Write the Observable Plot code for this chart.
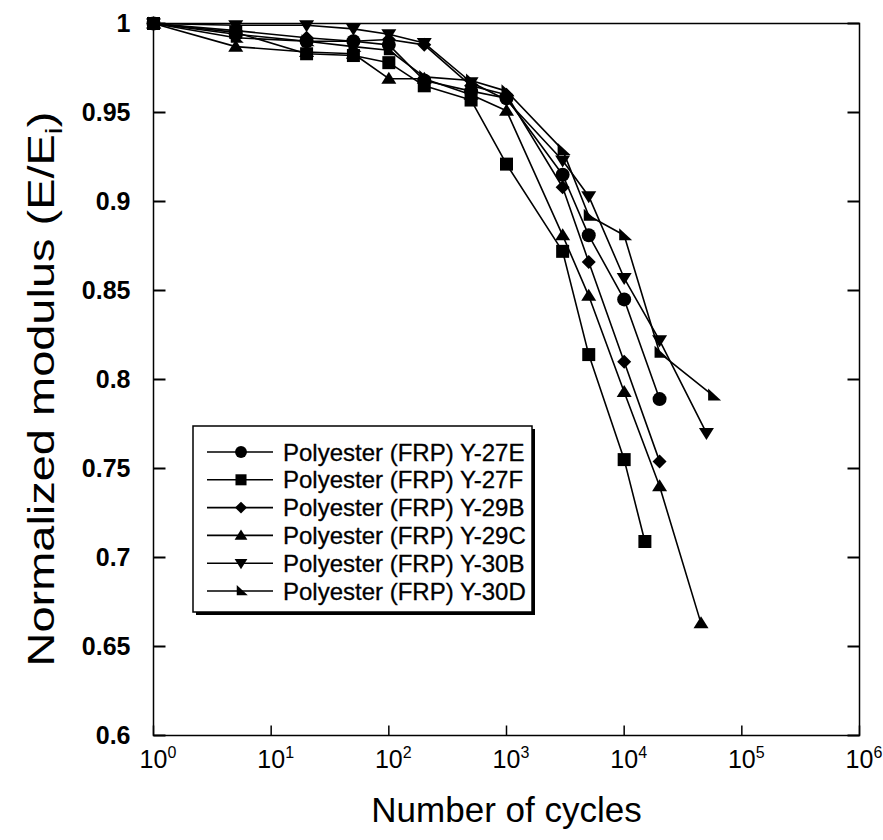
<!DOCTYPE html>
<html><head><meta charset="utf-8">
<script src="https://cdn.jsdelivr.net/npm/d3@7"></script>
<script src="https://cdn.jsdelivr.net/npm/@observablehq/plot@0.6"></script>
<style>body{margin:0;background:#fff} svg{display:block}</style>
</head><body><div id="chart"></div>
<script>
// ---- data ----
const seriesNames = ["Polyester (FRP) Y-27E","Polyester (FRP) Y-27F","Polyester (FRP) Y-29B","Polyester (FRP) Y-29C","Polyester (FRP) Y-30B","Polyester (FRP) Y-30D"];
const cycles27E = [1,5,20,50,100,200,500,1000,3000,5000,10000,20000];
const modulus27E = [1,0.994,0.990,0.990,0.988,0.968,0.962,0.958,0.915,0.881,0.845,0.789];
const cycles27F = [1,5,20,50,100,200,500,1000,3000,5000,10000,15000];
const modulus27F = [1,0.995,0.983,0.982,0.978,0.965,0.957,0.921,0.872,0.814,0.755,0.709];
const cycles29B = [1,5,20,50,100,200,500,1000,3000,5000,10000,20000];
const modulus29B = [1,0.996,0.992,0.990,0.991,0.988,0.965,0.960,0.908,0.866,0.810,0.754];
const cycles29C = [1,5,20,50,100,200,500,1000,3000,5000,10000,20000,45000];
const modulus29C = [1,0.987,0.984,0.983,0.969,0.969,0.960,0.951,0.881,0.847,0.793,0.740,0.663];
const cycles30B = [1,5,20,50,100,200,500,1000,3000,5000,10000,20000,50000];
const modulus30B = [1,0.999,0.999,0.997,0.994,0.989,0.967,0.957,0.923,0.903,0.857,0.822,0.770];
const cycles30D = [1,5,20,50,100,200,500,1000,3000,5000,10000,20000,57000];
const modulus30D = [1,0.992,0.990,0.987,0.985,0.970,0.968,0.962,0.929,0.892,0.881,0.815,0.791];

const xTicks = [1,10,100,1000,10000,100000,1000000];
const xTickBase = ["10","10","10","10","10","10","10"];
const xTickExp = ["0","1","2","3","4","5","6"];
const yTicks = [0.6,0.65,0.7,0.75,0.8,0.85,0.9,0.95,1];
const yTickLabels = ["0.6","0.65","0.7","0.75","0.8","0.85","0.9","0.95","1"];
const xTitle = "Number of cycles";
const yTitle = "Normalized modulus (E/E";
const yTitleSub = "i";

const allCycles = [cycles27E,cycles27F,cycles29B,cycles29C,cycles30B,cycles30D];
const allModulus = [modulus27E,modulus27F,modulus29B,modulus29C,modulus30B,modulus30D];
const series = seriesNames.map((name,i) => allCycles[i].map((c,j) => ({name, cycles:c, modulus:allModulus[i][j]})));

// ---- marker shapes ----
const symbols = [
  {draw(c){ c.moveTo(7,0); c.arc(0,0,7,0,2*Math.PI); c.closePath(); }},
  {draw(c){ c.rect(-6.5,-6.5,13,13); }},
  {draw(c){ c.moveTo(0,-7); c.lineTo(7,0); c.lineTo(0,7); c.lineTo(-7,0); c.closePath(); }},
  {draw(c){ c.moveTo(0,-7); c.lineTo(7.5,5); c.lineTo(-7.5,5); c.closePath(); }},
  {draw(c){ c.moveTo(0,7); c.lineTo(7.5,-5); c.lineTo(-7.5,-5); c.closePath(); }},
  {draw(c){ c.moveTo(-5,-7); c.lineTo(8,5); c.lineTo(-5,5); c.closePath(); }}
];
const tickUp = {draw(c){ c.moveTo(0,0); c.lineTo(0,-10); }};
const tickRight = {draw(c){ c.moveTo(0,0); c.lineTo(12,0); }};
const tickLeft = {draw(c){ c.moveTo(0,0); c.lineTo(-12,0); }};

const font = "Liberation Sans, Arial, Helvetica, sans-serif";

const marks = [];
series.forEach((s,i) => {
  marks.push(Plot.line(s, {x:"cycles", y:"modulus", stroke:"black", strokeWidth:1.6}));
});
series.forEach((s,i) => {
  marks.push(Plot.dot(s, {x:"cycles", y:"modulus", symbol:symbols[i], fill:"black", stroke:"none", r:5}));
});
marks.push(
  Plot.frame({stroke:"black", strokeWidth:1.5}),
  Plot.dot(xTicks, {x:d=>d, frameAnchor:"bottom", symbol:tickUp, stroke:"black", strokeWidth:1.5, fill:"none"}),
  Plot.dot(yTicks, {y:d=>d, frameAnchor:"left", symbol:tickRight, stroke:"black", strokeWidth:2, fill:"none"}),
  Plot.dot(yTicks, {y:d=>d, frameAnchor:"right", symbol:tickLeft, stroke:"black", strokeWidth:2, fill:"none"}),
  Plot.text(yTicks, {y:d=>d, frameAnchor:"left", text:(d,i)=>yTickLabels[i], textAnchor:"end", dx:-23, fontSize:25, fontWeight:"bold", fill:"black"}),
  Plot.text(xTicks, {x:d=>d, frameAnchor:"bottom", text:(d,i)=>xTickBase[i], dy:32, fontSize:25, fill:"black"}),
  Plot.text(xTicks, {x:d=>d, frameAnchor:"bottom", text:(d,i)=>xTickExp[i], dx:14, dy:22, fontSize:16, fill:"black", textAnchor:"start"}),
  Plot.text([xTitle], {frameAnchor:"bottom", text:d=>d, dy:86, fontSize:35, fill:"black"})
);

const chart = Plot.plot({
  width:883, height:840,
  marginLeft:153, marginRight:24, marginTop:23, marginBottom:105,
  style:{fontFamily:font, background:"#fff", overflow:"visible"},
  x:{type:"log", domain:[1,1e6], axis:null},
  y:{domain:[0.6,1], axis:null},
  marks
});
document.getElementById("chart").append(chart);

// y title with subscript
const svg = d3.select(chart);
const yt = svg.append("text")
  .attr("transform","translate(54,389) rotate(-90)")
  .attr("text-anchor","middle")
  .attr("textLength",555).attr("lengthAdjust","spacingAndGlyphs")
  .attr("font-family",font).attr("font-size",36).attr("fill","black");
yt.append("tspan").text(yTitle);
yt.append("tspan").attr("font-size",24).attr("dy",8).text(yTitleSub);
yt.append("tspan").attr("dy",-8).text(")");

// legend
const lg = svg.append("g");
const lx = 193, ly = 426, lw = 339, lh = 186;
lg.append("rect").attr("x",lx+3).attr("y",ly+3).attr("width",lw).attr("height",lh).attr("fill","black");
lg.append("rect").attr("x",lx).attr("y",ly).attr("width",lw).attr("height",lh).attr("fill","white").attr("stroke","black").attr("stroke-width",1.5);
seriesNames.forEach((name,i) => {
  const cy = 452 + i*27.8;
  lg.append("line").attr("x1",207).attr("x2",273).attr("y1",cy).attr("y2",cy).attr("stroke","black").attr("stroke-width",1.6);
  const p = d3.path(); symbols[i].draw(p, 0);
  lg.append("path").attr("d",p.toString()).attr("transform",`translate(241,${cy}) scale(0.85)`).attr("fill","black");
  lg.append("text").attr("x",283).attr("y",cy).attr("dy","0.36em").attr("text-anchor","start")
    .attr("font-family",font).attr("font-size",24).attr("fill","black")
    .attr("stroke","black").attr("stroke-width",0.3).text(name);
});
</script>
</body></html>
